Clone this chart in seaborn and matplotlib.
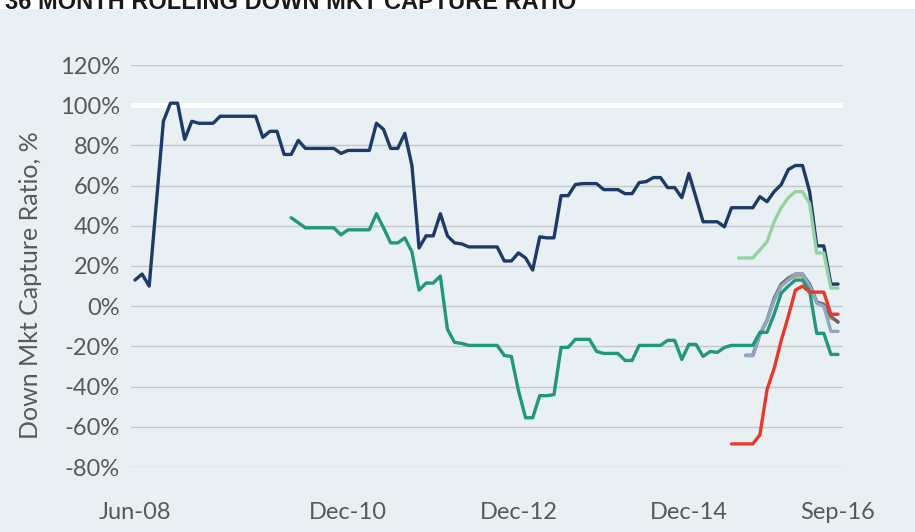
import numpy as np
import pandas as pd
import matplotlib
matplotlib.use("Agg")
import matplotlib.pyplot as plt
from matplotlib.patches import Rectangle
import seaborn as sns

# monthly axis, Jun-08 .. Sep-16
months = pd.date_range("2008-06-01", periods=100, freq="MS")
tick_labels = ["Jun-08", "Dec-10", "Dec-12", "Dec-14", "Sep-16"]
y_ticks = [-80, -60, -40, -20, 0, 20, 40, 60, 80, 100, 120]

# series values (%), each with its first month index
navy_start = 0
navy = [13, 16, 10, 51, 92, 101, 101, 83, 92, 91,
        91, 91, 94.5, 94.5, 94.5, 94.5, 94.5, 94.5, 84, 87,
        87, 75.5, 75.5, 82.5, 78.5, 78.5, 78.5, 78.5, 78.5, 76,
        77.5, 77.5, 77.5, 77.5, 91, 88, 78.5, 78.5, 86, 70,
        29, 35, 35, 46, 35, 31.5, 31, 29.5, 29.5, 29.5,
        29.5, 29.5, 22.5, 22.5, 26.5, 24, 18, 34.5, 34, 34,
        55, 55, 60.5, 61, 61, 61, 58, 58, 58, 56,
        56, 61.5, 62, 64, 64, 59, 59, 54, 66, 54,
        42, 42, 42, 39.5, 49, 49, 49, 49, 54.5, 52,
        57, 60.5, 68, 70, 70, 57, 30, 30, 11, 11]

teal_start = 22
teal = [44, 41.5, 39, 39, 39, 39, 39, 35.5, 38, 38,
        38, 38, 46, 39, 31.5, 31.5, 34, 27, 8, 11.5,
        11.5, 15, -11.5, -18, -18.5, -19.5, -19.5, -19.5, -19.5, -19.5,
        -24.5, -25, -42, -55.5, -55.5, -44.5, -44.5, -44, -20.5, -20.5,
        -16.5, -16.5, -16.5, -22.5, -23.5, -23.5, -23.5, -27, -27, -19.5,
        -19.5, -19.5, -19.5, -17, -17, -26.5, -19, -19, -25, -22.5,
        -23, -20.5, -19.5, -19.5, -19.5, -19.5, -13, -13, -4, 6.5,
        10, 13, 13, 7.5, -13.5, -13.5, -24, -24]

light_green_start = 85
light_green = [24, 24, 24, 28, 32, 42, 49, 54, 57, 57, 51, 26.5, 26.5, 9, 9]

tan_start = 86
tan = [-24.5, -24.5, -14, -7, 3, 10, 13, 15, 15, 10, 2, 0, -6, -7.5]

dark_gray_start = 86
dark_gray = [-24.5, -24.5, -14, -7, 4, 11, 14, 16, 16, 11, 2, 1, -5, -8]

gray_blue_start = 86
gray_blue = [-24.5, -24.5, -14, -7, 3, 10, 13, 16, 16, 10, 1.5, 0, -12.5, -12.5]

red_start = 84
red = [-68.5, -68.5, -68.5, -68.5, -64, -41.5, -31, -17, -5, 8,
       10, 7, 7, 7, -4, -4]

series = {
    "navy": (navy_start, navy),
    "light_green": (light_green_start, light_green),
    "tan": (tan_start, tan),
    "dark_gray": (dark_gray_start, dark_gray),
    "gray_blue": (gray_blue_start, gray_blue),
    "teal": (teal_start, teal),
    "red": (red_start, red),
}
palette = {
    "navy": "#1D3A68",
    "light_green": "#93D3A2",
    "tan": "#D9A657",
    "dark_gray": "#6F6470",
    "gray_blue": "#8DA8BF",
    "teal": "#21977C",
    "red": "#E8392C",
}

rows = []
for name, (start, vals) in series.items():
    for k, v in enumerate(vals):
        rows.append({"series": name, "month": start + k, "value": v})
df = pd.DataFrame(rows)

bg = "#E9F0F3"
text_col = "#595959"

sns.set_theme(style="white")
plt.rcParams["font.family"] = ["Lato", "DejaVu Sans"]

fig = plt.figure(figsize=(9.15, 5.32), dpi=100)
fig.patch.set_facecolor("white")
fig.patches.append(Rectangle((0, 0), 1, (532 - 9) / 532, transform=fig.transFigure,
                             facecolor=bg, edgecolor="none", zorder=-1))
# title sits at the very top, partly cropped as in the source image
fig.text(5 / 915, 1 - 9 / 532, "36 MONTH ROLLING DOWN MKT CAPTURE RATIO",
         family="Liberation Sans", weight="bold", fontsize=17, color="#1A1A1A",
         va="baseline", ha="left")

ax = fig.add_axes([131 / 915, 65 / 532, 712 / 915, 402 / 532])
ax.set_facecolor(bg)

sns.lineplot(data=df, x="month", y="value", hue="series", hue_order=list(series.keys()),
             palette=palette, estimator=None, linewidth=2.4, legend=False, ax=ax)

ax.set_xlim(-0.56, 99.7)
ax.set_ylim(-80, 120)
ax.set_yticks(y_ticks)
ax.set_yticklabels([f"{t}%" for t in y_ticks])
month_names = list(months.strftime("%b-%y"))
ax.set_xticks([month_names.index(t) for t in tick_labels])
ax.set_xticklabels(tick_labels)

ax.grid(axis="y", color="#C2C7CB", linewidth=1)
ax.axhline(100, color="white", linewidth=3.5, zorder=1.5)
ax.set_axisbelow(True)
for s in ax.spines.values():
    s.set_visible(False)
ax.tick_params(axis="y", length=0, pad=8, labelsize=17, labelcolor=text_col)
ax.tick_params(axis="x", length=0, pad=25, labelsize=17, labelcolor=text_col)
ax.set_xlabel("")
ax.set_ylabel("")
fig.text(31 / 915, 1 - 285 / 532, "Down Mkt Capture Ratio, %", rotation=90,
         ha="center", va="center", fontsize=18, color=text_col)

fig.savefig("out.png", dpi=100)
